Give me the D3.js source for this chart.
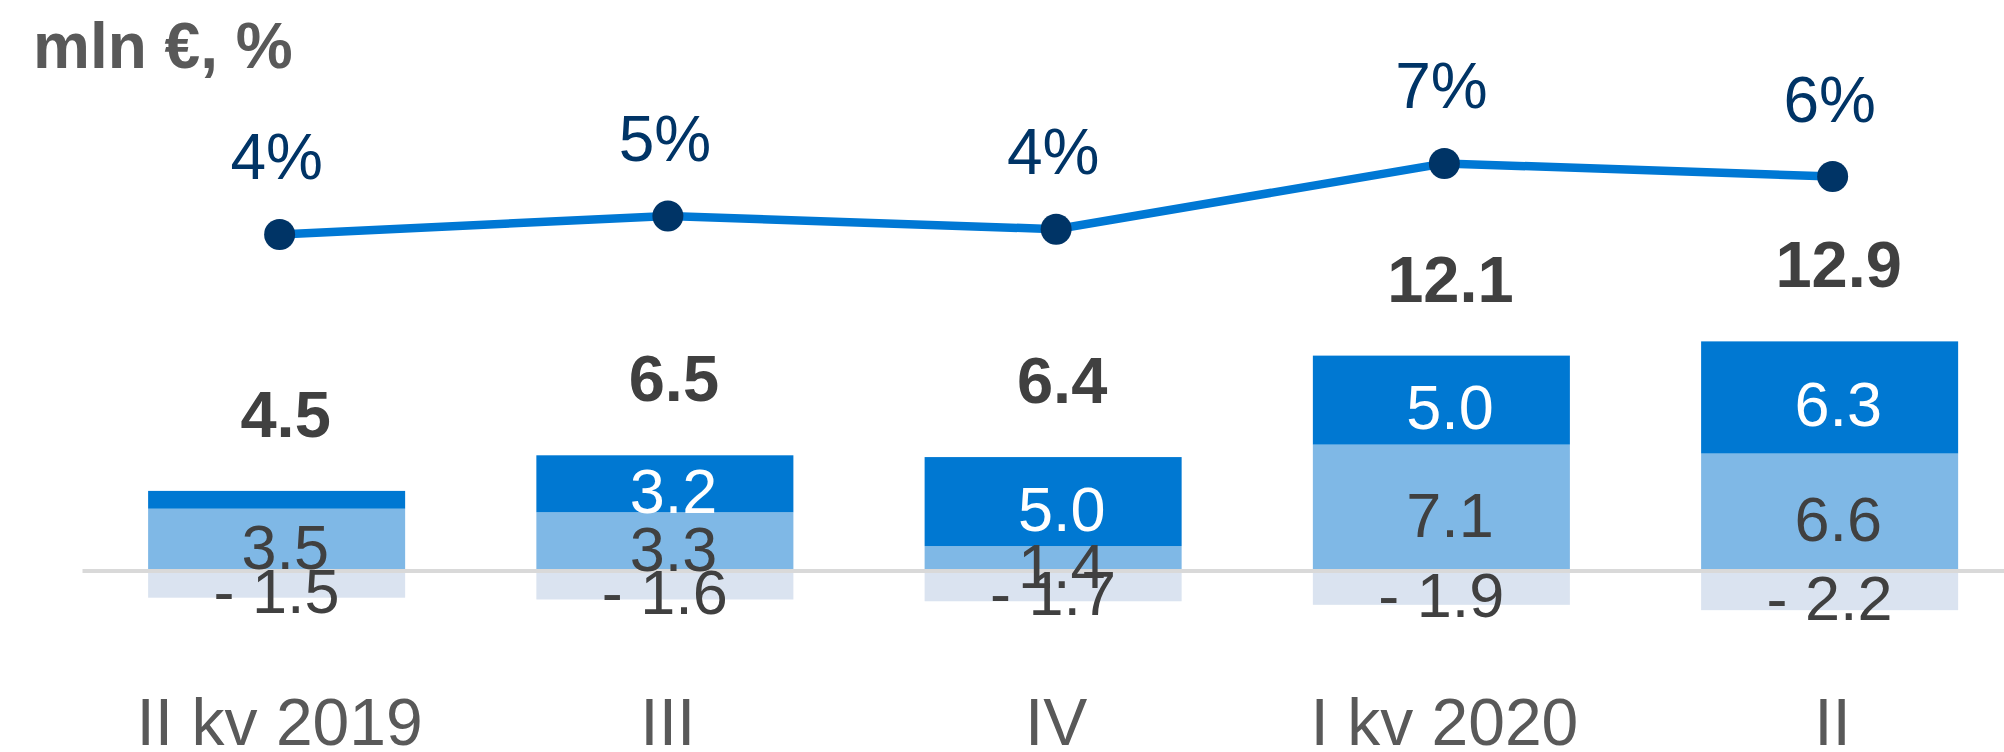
<!DOCTYPE html>
<html>
<head>
<meta charset="utf-8">
<script src="https://cdn.jsdelivr.net/npm/d3@7"></script>
<style>
  body { margin: 0; background: #fff; }
  text { font-family: "Liberation Sans", Arial, sans-serif; }
</style>
</head>
<body>
<script>
// quarters and the stacked pieces (mln €)
var categories = ["II kv 2019", "III", "IV", "I kv 2020", "II"];
var lightValues = [3.5, 3.3, 1.4, 7.1, 6.6];
var darkValues = [1.0, 3.2, 5.0, 5.0, 6.3];
var negValues = [-1.5, -1.6, -1.7, -1.9, -2.2];
var totals = [4.5, 6.5, 6.4, 12.1, 12.9];
// margin line, %
var marginPct = [3.9, 4.6, 4.1, 6.6, 6.1];

var svgWidth = 2004;
var svgHeight = 752;

var svg = d3.select("body")
  .append("svg")
  .attr("width", svgWidth)
  .attr("height", svgHeight);

var xBandScale = d3.scaleBand()
  .domain(categories)
  .range([82.5, 2023.75])
  .paddingInner(0.338)
  .paddingOuter(0.169);

// value axis for the bars
var yScale = d3.scaleLinear()
  .domain([0, 10])
  .range([571, 393]);

// separate axis for the % line
var pctScale = d3.scaleLinear()
  .domain([0, 10])
  .range([337, 74]);

var fmt1 = d3.format(".1f");
var fmt0 = d3.format(".0f");
var shift = 3; // line / category labels sit slightly right of bar centre

var rows = categories.map(function(c, i) {
  return { cat: c, light: lightValues[i], dark: darkValues[i], neg: negValues[i], total: totals[i], pct: marginPct[i] };
});

// segments
var segs = [];
rows.forEach(function(d) {
  segs.push({ cat: d.cat, y0: 0, y1: d.light, v: d.light, fill: "#7fb8e6", txt: "#404040" });
  segs.push({ cat: d.cat, y0: d.light, y1: d.light + d.dark, v: d.dark, fill: "#0078d2", txt: "#ffffff" });
  segs.push({ cat: d.cat, y0: d.neg, y1: 0, v: d.neg, fill: "#dae3f0", txt: "#404040" });
});

svg.append("g").selectAll("rect")
  .data(segs)
  .enter()
  .append("rect")
  .attr("x", d => xBandScale(d.cat))
  .attr("y", d => yScale(d.y1))
  .attr("width", xBandScale.bandwidth())
  .attr("height", d => yScale(d.y0) - yScale(d.y1))
  .attr("fill", d => d.fill);

// zero line over the bars
svg.append("line")
  .attr("x1", xBandScale.range()[0])
  .attr("x2", svgWidth)
  .attr("y1", yScale(0))
  .attr("y2", yScale(0))
  .attr("stroke", "#d9d9d9")
  .attr("stroke-width", 4);

// labels inside the segments
svg.append("g").selectAll("text")
  .data(segs.filter(d => Math.abs(d.v) >= 1.2))
  .enter()
  .append("text")
  .attr("x", d => xBandScale(d.cat) + xBandScale.bandwidth() / 2)
  .attr("y", d => (yScale(d.y0) + yScale(d.y1)) / 2 + 29)
  .attr("text-anchor", "middle")
  .attr("font-size", 63)
  .attr("fill", d => d.txt)
  .text(d => d.v < 0 ? "- " + fmt1(-d.v) : "\u00A0" + fmt1(d.v));

// totals
svg.append("g").selectAll("text")
  .data(rows)
  .enter()
  .append("text")
  .attr("x", d => xBandScale(d.cat) + xBandScale.bandwidth() / 2)
  .attr("y", d => yScale(d.light + d.dark) - 54)
  .attr("text-anchor", "middle")
  .attr("font-size", 65)
  .attr("font-weight", "bold")
  .attr("fill", "#404040")
  .text(d => "\u00A0" + fmt1(d.total));

// % line
var line = d3.line()
  .x(d => xBandScale(d.cat) + xBandScale.bandwidth() / 2 + shift)
  .y(d => pctScale(d.pct));

svg.append("path")
  .datum(rows)
  .attr("d", line)
  .attr("fill", "none")
  .attr("stroke", "#0078d4")
  .attr("stroke-width", 8.5);

svg.append("g").selectAll("circle")
  .data(rows)
  .enter()
  .append("circle")
  .attr("cx", d => xBandScale(d.cat) + xBandScale.bandwidth() / 2 + shift)
  .attr("cy", d => pctScale(d.pct))
  .attr("r", 15.5)
  .attr("fill", "#003466");

svg.append("g").selectAll("text")
  .data(rows)
  .enter()
  .append("text")
  .attr("x", d => xBandScale(d.cat) + xBandScale.bandwidth() / 2)
  .attr("y", d => pctScale(d.pct) - 55)
  .attr("text-anchor", "middle")
  .attr("font-size", 64)
  .attr("fill", "#003466")
  .text(d => fmt0(d.pct) + "%");

// category labels
svg.append("g").selectAll("text")
  .data(categories)
  .enter()
  .append("text")
  .attr("x", d => xBandScale(d) + xBandScale.bandwidth() / 2 + shift)
  .attr("y", 745)
  .attr("text-anchor", "middle")
  .attr("font-size", 66)
  .attr("fill", "#595959")
  .text(d => d);

// unit title
svg.append("text")
  .attr("x", 33)
  .attr("y", 68)
  .attr("font-size", 64)
  .attr("font-weight", "bold")
  .attr("fill", "#595959")
  .text("mln €, %");
</script>
</body>
</html>
